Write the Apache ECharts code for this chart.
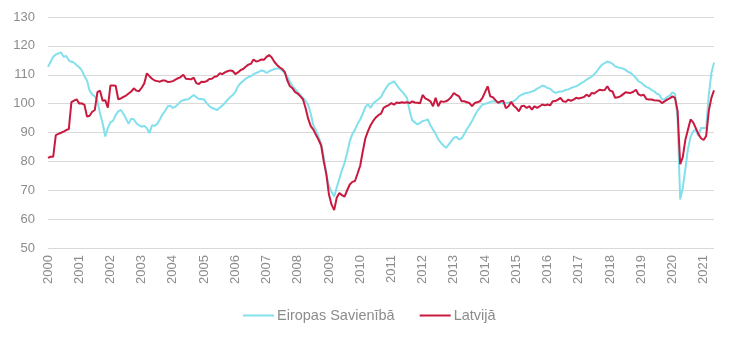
<!DOCTYPE html>
<html>
<head>
<meta charset="utf-8">
<script src="https://cdn.jsdelivr.net/npm/echarts@6/dist/echarts.min.js"></script>
<style>
html,body{margin:0;padding:0;background:#fff;}
#chart{width:730px;height:337px;}
</style>
</head>
<body>
<div id="chart"></div>
<script>
// Year tick labels (monthly data, Jan 2000 – May 2021)
var years = ['2000','2001','2002','2003','2004','2005','2006','2007','2008','2009','2010',
  '2011','2012','2013','2014','2015','2016','2017','2018','2019','2020','2021'];
var lastYearMonths = 5;

var seriesNames = ['Eiropas Savienībā', 'Latvijā'];

var euValues = [
  // 2000
  112.8,114.5,116.2,117,117.4,117.7,116.2,116.5,115,114.5,114.2,113.3,
  // 2001
  112.6,111.5,109.5,108,104.5,103.2,102.5,101,96.6,93.2,88.6,91.5,
  // 2002
  93.5,94,96,97.3,97.8,96.5,94.8,93,94.8,94.5,93.2,92.5,
  // 2003
  92,92.3,91.5,89.8,92.5,92.3,93,94.5,96.3,97.4,99,99.3,
  // 2004
  98.5,99,99.8,100.8,101.2,101.4,101.5,102.3,103,102.2,101.6,101.6,
  // 2005
  101.4,100.2,99.2,98.5,98.2,97.8,98.6,99.3,100.2,101.3,102.2,103,
  // 2006
  104,106,107.1,107.8,108.6,109.2,109.5,110.2,110.6,111,111.5,111.3,
  // 2007
  110.6,111.2,111.6,112,112.2,112.1,111.5,110.6,109.4,107.6,106,105,
  // 2008
  104,103,102,101,99.5,96.5,92.5,90.8,88.5,86,81.5,75.5,
  // 2009
  71.5,69.5,67.8,71,74,77,79.5,83,87,89.5,91,93,
  // 2010
  94.5,96.5,98.8,99.8,98.5,100.1,100.8,101.5,102.3,104,105.5,106.8,
  // 2011
  107.2,107.7,106.5,105.2,104.3,103.2,102,97.5,94.2,93.5,92.8,93.3,
  // 2012
  94,94.2,94.5,92.5,91,89.5,87.6,86.5,85.5,84.7,85.8,87,
  // 2013
  88.2,88.5,87.6,88,89.5,91.1,92.5,94,95.8,97.4,98.5,99.7,
  // 2014
  99.9,100.2,100.6,100.8,100.7,100.5,100.2,100.1,100.2,100.3,100.5,100.8,
  // 2015
  101.5,102.5,103,103.5,103.7,103.9,104.2,104.5,105.2,105.6,106.3,106,
  // 2016
  105.4,105.2,104.3,103.7,104,104.2,104.3,104.8,104.9,105.4,105.7,106,
  // 2017
  106.5,107.1,107.6,108.3,108.8,109.4,110.2,111.2,112.5,113.5,114,114.6,
  // 2018
  114.3,113.8,112.9,112.6,112.3,112.2,111.7,111,110.6,109.8,108.9,107.7,
  // 2019
  107.3,106.4,105.8,105.4,104.7,104.3,103.4,103.1,101.4,101.5,102.3,102.8,
  // 2020
  103.9,103.4,95,66.8,70.8,77.5,84.3,88.5,90.5,91,88.7,91.6,
  // 2021
  91.6,91.5,103,110.6,114.2
];

var lvValues = [
  // 2000
  81.2,81.6,81.6,89.1,89.5,89.9,90.3,90.8,91.2,100.5,101,101.5,
  // 2001
  100,100.1,99.6,95.5,95.8,97.2,97.8,104,104.5,101,101.2,98.6,
  // 2002
  106.3,106.3,106.2,101.5,101.8,102.3,102.8,103.5,104.2,105.3,104.5,104.3,
  // 2003
  105.5,107,110.5,109.5,108.6,108,107.8,107.6,108,108,107.5,107.6,
  // 2004
  107.8,108.3,108.8,109.2,110,108.6,108.5,108.4,109,107.1,106.8,107.6,
  // 2005
  107.5,107.8,108.5,108.6,109.3,109.5,110.5,110.2,110.8,111.2,111.5,111.3,
  // 2006
  110.2,110.8,111.6,112,112.8,113.5,113.8,115.3,114.6,114.8,115.3,115.2,
  // 2007
  116.2,116.8,116,114.5,113.4,112.6,112,111,108,106,105.3,104,
  // 2008
  103.5,102.5,101.5,98.5,94.8,92.2,91,89.2,87.5,85.5,80,75.5,
  // 2009
  68.5,65,63.1,67.5,69,68.3,67.8,70,72,72.9,73.2,75.8,
  // 2010
  78.5,83.5,88,90.5,92.5,94,95.2,96,96.5,98.5,99.1,99.5,
  // 2011
  100.2,99.6,100.4,100.2,100.5,100.3,100.5,100.2,100.8,100.4,100.3,100.1,
  // 2012
  103,101.8,101.4,100.8,99.1,102,99.1,100.8,100.6,100.8,101.4,102.3,
  // 2013
  103.7,103,102.5,100.8,100.8,100.5,100.2,99.1,100.2,100.5,100.8,102,
  // 2014
  104,106,102.5,102.2,101.2,100.3,100.8,101,98.4,99.1,100.6,99.3,
  // 2015
  98.5,97.3,99.1,99.3,98.5,99.1,97.9,99.1,98.5,99.1,99.7,99.4,
  // 2016
  99.7,99.4,100.8,100.9,101.4,102,100.8,100.6,101.4,101,101.4,102,
  // 2017
  101.8,102,102.3,103.1,102.5,103.7,103.5,104.2,104.8,104.6,104.7,106,
  // 2018
  104.5,104.2,102,102.2,102.5,103.2,103.9,103.8,103.7,104.1,104.8,103.2,
  // 2019
  102.8,103.1,101.6,101.4,101.4,101.2,101.1,101,100.2,100.8,101.4,101.8,
  // 2020
  102.5,102,97.5,79,81.5,87.5,91,94.5,93.5,91.5,89.5,88,
  // 2021
  87.4,88.8,97.5,102,104.6
];

// monthly categories built from the year labels
var categories = [];
years.forEach(function (y, i) {
  var n = (i === years.length - 1) ? lastYearMonths : 12;
  for (var m = 1; m <= n; m++) categories.push(y + '-' + (m < 10 ? '0' + m : m));
});

var textColor = '#8c8c8c';
var font = 'Liberation Sans, Arial, sans-serif';

var chart = echarts.init(document.getElementById('chart'), null, {renderer: 'canvas'});
chart.setOption({
  animation: false,
  backgroundColor: '#ffffff',
  grid: {left: 48, right: 16, top: 17, bottom: 89},
  legend: {
    data: seriesNames,
    left: 238,
    top: 303,
    icon: 'rect',
    itemWidth: 31,
    itemHeight: 2,
    itemGap: 25,
    textStyle: {color: textColor, fontSize: 14.5, fontFamily: font, padding: [0, 0, 0, -2]}
  },
  xAxis: {
    type: 'category',
    data: categories,
    boundaryGap: false,
    axisLine: {show: false},
    axisTick: {show: false},
    splitLine: {show: false},
    axisLabel: {
      rotate: 90,
      margin: 7,
      color: textColor,
      fontSize: 13,
      fontFamily: font,
      interval: function (idx) { return idx % 12 === 0; },
      formatter: function (v) { return v.slice(0, 4); }
    }
  },
  yAxis: {
    type: 'value',
    min: 50,
    max: 130,
    interval: 10,
    axisLine: {show: false},
    axisTick: {show: false},
    axisLabel: {color: textColor, fontSize: 13, fontFamily: font, margin: 13},
    splitLine: {lineStyle: {color: '#d9d9d9', width: 1}}
  },
  series: [
    {
      name: seriesNames[0],
      type: 'line',
      data: euValues,
      showSymbol: false,
      symbol: 'none',
      lineStyle: {color: '#82e0ec', width: 2},
      itemStyle: {color: '#82e0ec'}
    },
    {
      name: seriesNames[1],
      type: 'line',
      data: lvValues,
      showSymbol: false,
      symbol: 'none',
      lineStyle: {color: '#c8193f', width: 2},
      itemStyle: {color: '#c8193f'}
    }
  ]
});
</script>
</body>
</html>
